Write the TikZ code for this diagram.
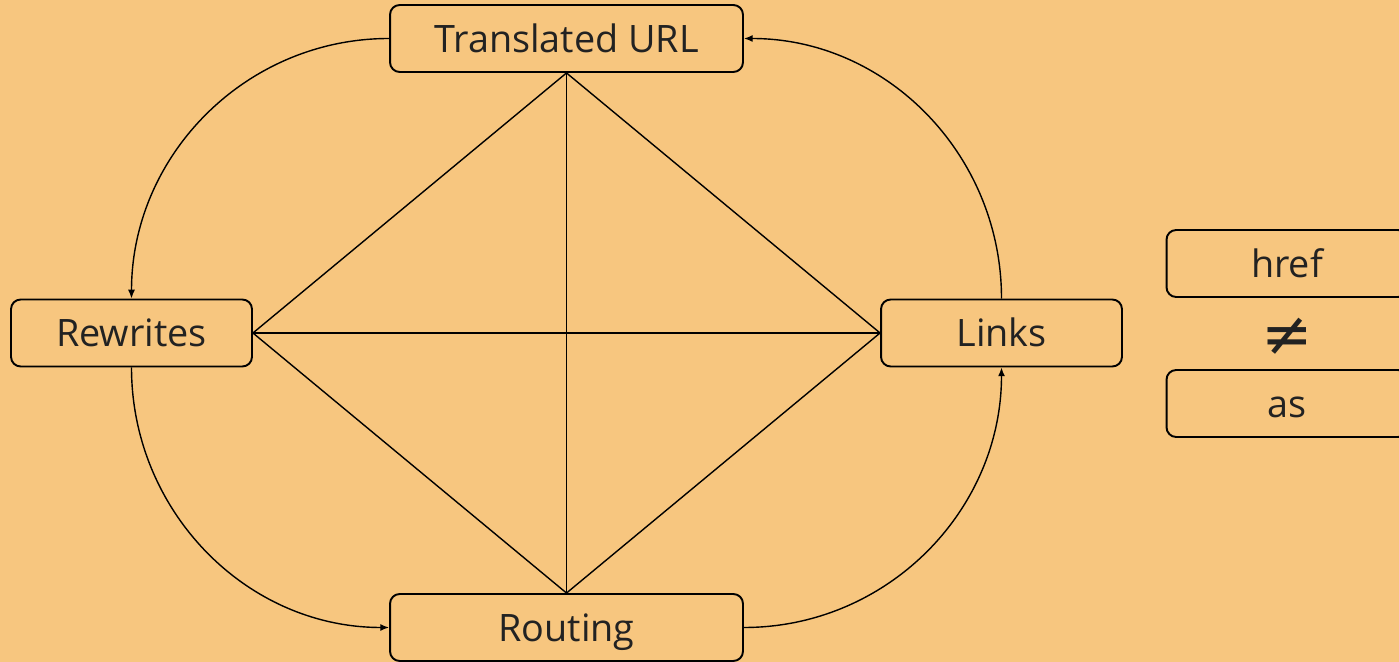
\documentclass[tikz,border=0pt]{standalone}
\usepackage{fontspec}
\setmainfont{Open Sans}
\newfontfamily\symfont{DejaVu Sans}
\usetikzlibrary{arrows.meta}
\definecolor{sand}{HTML}{F7C67F}
\definecolor{ink}{HTML}{222222}
\tikzset{
    box/.style={draw=black, line width=1.1pt, rounded corners=5.5pt, fill=sand, text=ink,
        font=\fontsize{21.5}{24}\selectfont, minimum height=1.34cm, inner sep=0pt,
        text height=15.5pt, text depth=0pt},
    widebox/.style={box, minimum width=7.06cm},
    smallbox/.style={box, minimum width=4.82cm},
    edge/.style={line width=0.8pt},
    flow/.style={line width=0.8pt, -{Latex[length=5pt,width=4pt]}}
}
\begin{document}
\begin{tikzpicture}[x=0.02cm,y=0.02cm]
\useasboundingbox (0,0) rectangle (1399,662); % page size
\fill[sand] (0,0) rectangle (1399,662); % background
\node[widebox] (url) at (566.5,623.5) {Translated URL}; % top
\node[smallbox] (rewrites) at (131.5,329) {Rewrites}; % left
\node[smallbox] (links) at (1001.5,329) {Links}; % right
\node[widebox] (routing) at (566.5,34.5) {Routing}; % bottom
\node[smallbox] (href) at (1287,398.5) {href}; % side note top
\node[smallbox] (as) at (1287,258.5) {as}; % side note bottom
\node[text=ink, font=\symfont\fontsize{35}{35}\selectfont] (neq) at (1287,325) {≠}; % not equal
\foreach \a/\b in {url.south/rewrites.east, url.south/links.west, url.south/routing.north,
    rewrites.east/links.west, rewrites.east/routing.north, links.west/routing.north}
    \draw[edge] (\a) -- (\b); % diagonals
\draw[flow] (url.west) to[out=180,in=90] (rewrites.north); % url -> rewrites
\draw[flow] (rewrites.south) to[out=-90,in=180] (routing.west); % rewrites -> routing
\draw[flow] (routing.east) to[out=0,in=-90] (links.south); % routing -> links
\draw[flow] (links.north) to[out=90,in=0] (url.east); % links -> url
\end{tikzpicture}
\end{document}
